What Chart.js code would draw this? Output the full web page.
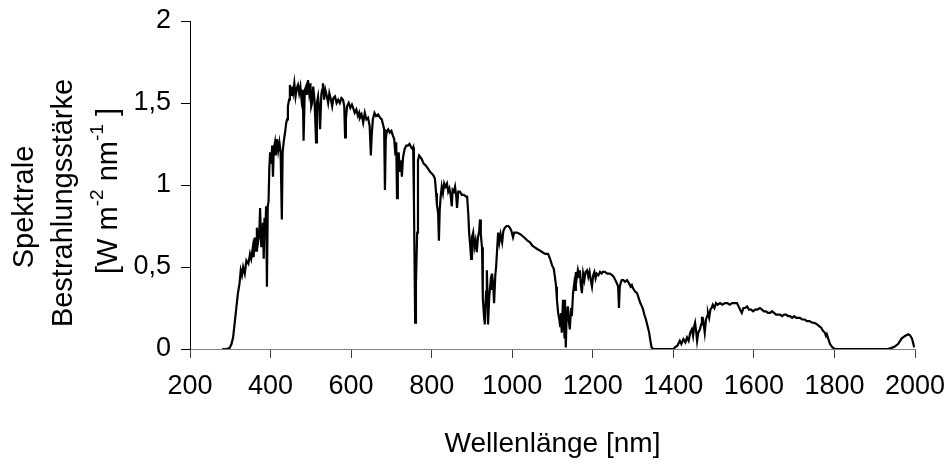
<!DOCTYPE html>
<html>
<head>
<meta charset="utf-8">
<script src="https://cdn.jsdelivr.net/npm/chart.js@4"></script>
<style>
  body { margin: 0; background: #fff; }
  canvas { display: block; }
</style>
</head>
<body>
<canvas id="spektrum" width="947" height="473"></canvas>
<script>
// Wellenlänge in nm
const wellenlaenge = [
  280, 290, 298, 303, 307, 311, 315, 319, 323, 326, 329, 332, 336, 340, 345, 349, 352, 356, 358, 361,
  364, 366, 369, 372, 374, 377, 379, 381, 383, 385, 387, 389, 391, 393, 395, 397, 399, 402, 404, 406,
  408, 411, 413, 416, 419, 422, 425, 428, 430, 433, 436, 439, 441, 443, 446, 448, 451, 453, 456, 459,
  462, 465, 468, 471, 474, 477, 480, 482, 485, 488, 490, 493, 496, 499, 501, 503, 506, 509, 511, 513,
  515, 518, 521, 523, 526, 528, 530, 533, 536, 540, 543, 546, 550, 553, 556, 560, 564, 568, 572, 576,
  580, 583, 585, 587, 590, 594, 598, 602, 605, 609, 613, 617, 620, 622, 626, 630, 634, 638, 642, 646,
  649, 651, 654, 658, 662, 667, 672, 676, 679, 682, 684, 686, 689, 692, 696, 700, 704, 707, 710, 712,
  714, 716, 718, 721, 724, 726, 729, 733, 737, 741, 745, 749, 752, 754, 756, 759, 761, 764, 766, 769,
  771, 775, 780, 785, 791, 796, 800, 804, 808, 811, 813, 816, 818, 820, 822, 825, 828, 831, 834, 838,
  841, 844, 847, 850, 852, 855, 858, 861, 863, 866, 870, 875, 880, 885, 888, 891, 893, 896, 898, 900,
  903, 906, 909, 912, 915, 918, 920, 922, 925, 927, 930, 932, 935, 937, 939, 940, 943, 946, 948, 950,
  953, 955, 958, 960, 962, 965, 968, 971, 975, 978, 982, 986, 990, 994, 998, 1002, 1005, 1012, 1020, 1030,
  1038, 1044, 1050, 1056, 1062, 1069, 1075, 1082, 1089, 1094, 1099, 1103, 1106, 1109, 1111, 1114, 1117, 1119, 1121, 1123,
  1126, 1128, 1130, 1131, 1133, 1135, 1138, 1140, 1143, 1146, 1148, 1151, 1154, 1156, 1158, 1160, 1163, 1166, 1168, 1170,
  1173, 1176, 1179, 1182, 1186, 1189, 1192, 1195, 1198, 1201, 1204, 1207, 1210, 1214, 1218, 1222, 1225, 1230, 1236, 1242,
  1248, 1252, 1256, 1260, 1263, 1265, 1267, 1270, 1272, 1276, 1280, 1285, 1290, 1294, 1297, 1300, 1305, 1310, 1314, 1318,
  1322, 1325, 1328, 1332, 1336, 1340, 1343, 1346, 1350, 1400, 1404, 1410, 1416, 1420, 1425, 1430, 1434, 1438, 1442, 1446,
  1449, 1452, 1454, 1457, 1459, 1462, 1466, 1469, 1471, 1473, 1476, 1478, 1481, 1484, 1486, 1489, 1492, 1495, 1498, 1502,
  1506, 1510, 1516, 1522, 1528, 1534, 1540, 1546, 1552, 1558, 1562, 1566, 1570, 1574, 1578, 1583, 1588, 1593, 1598, 1603,
  1608, 1615, 1620, 1625, 1630, 1635, 1640, 1645, 1650, 1655, 1660, 1665, 1670, 1675, 1680, 1685, 1690, 1695, 1700, 1705,
  1710, 1714, 1720, 1726, 1732, 1738, 1745, 1750, 1757, 1762, 1767, 1772, 1776, 1779, 1781, 1785, 1789, 1795, 1801, 1933,
  1940, 1945, 1950, 1955, 1958, 1963, 1967, 1970, 1975, 1980, 1983, 1987, 1990, 1993, 1996, 1998
];

// Spektrale Bestrahlungsstärke in W m^-2 nm^-1
const bestrahlung = [
  0, 0, 0.005, 0.03, 0.07, 0.16, 0.25, 0.34, 0.40, 0.48, 0.45, 0.50, 0.46, 0.54, 0.52, 0.58, 0.55, 0.62, 0.56, 0.68,
  0.60, 0.74, 0.65, 0.70, 0.86, 0.62, 0.72, 0.77, 0.55, 0.80, 0.72, 0.87, 0.38, 0.87, 0.90, 1.11, 1.20, 1.13, 1.24, 1.05,
  1.22, 1.26, 1.18, 1.28, 1.21, 1.26, 1.20, 0.79, 1.20, 1.27, 1.32, 1.38, 1.40, 1.48, 1.52, 1.61, 1.55, 1.60, 1.56, 1.62,
  1.54, 1.59, 1.61, 1.56, 1.60, 1.52, 1.58, 1.27, 1.58, 1.60, 1.55, 1.64, 1.56, 1.62, 1.48, 1.50, 1.60, 1.52, 1.40, 1.26,
  1.50, 1.54, 1.45, 1.34, 1.55, 1.58, 1.62, 1.52, 1.58, 1.54, 1.50, 1.56, 1.52, 1.48, 1.53, 1.54, 1.50, 1.52, 1.50, 1.53,
  1.52, 1.48, 1.29, 1.40, 1.48, 1.50, 1.47, 1.49, 1.47, 1.44, 1.46, 1.42, 1.44, 1.41, 1.43, 1.38, 1.44, 1.40, 1.41, 1.36,
  1.18, 1.30, 1.40, 1.44, 1.42, 1.43, 1.41, 1.40, 1.37, 1.34, 0.97, 1.28, 1.33, 1.34, 1.32, 1.33, 1.30, 1.28, 1.18, 1.26,
  0.92, 1.10, 1.20, 1.08, 1.15, 1.05, 1.17, 1.22, 1.24, 1.24, 1.25, 1.23, 1.22, 1.23, 0.90, 0.16, 0.40, 0.71, 1.15, 1.18,
  1.18, 1.16, 1.13, 1.12, 1.10, 1.08, 1.07, 1.06, 1.04, 0.95, 0.88, 0.83, 0.66, 0.85, 0.92, 0.99, 0.95, 1.01, 0.99, 1.01,
  0.96, 0.98, 0.94, 0.87, 0.97, 0.96, 0.99, 0.93, 0.86, 0.96, 0.96, 0.94, 0.94, 0.93, 0.93, 0.82, 0.71, 0.62, 0.55, 0.68,
  0.71, 0.62, 0.66, 0.59, 0.68, 0.72, 0.79, 0.70, 0.62, 0.31, 0.20, 0.15, 0.35, 0.48, 0.30, 0.15, 0.32, 0.40, 0.36, 0.46,
  0.38, 0.28, 0.45, 0.50, 0.50, 0.71, 0.65, 0.70, 0.65, 0.72, 0.74, 0.75, 0.75, 0.74, 0.72, 0.68, 0.71, 0.71, 0.70, 0.68,
  0.66, 0.65, 0.63, 0.62, 0.61, 0.60, 0.59, 0.58, 0.58, 0.55, 0.51, 0.49, 0.44, 0.38, 0.30, 0.22, 0.18, 0.14, 0.22, 0.10,
  0.30, 0.15, 0.07, 0.30, 0.01, 0.20, 0.26, 0.18, 0.12, 0.25, 0.20, 0.34, 0.40, 0.36, 0.47, 0.43, 0.48, 0.44, 0.48, 0.40,
  0.34, 0.46, 0.42, 0.47, 0.48, 0.44, 0.47, 0.42, 0.38, 0.45, 0.47, 0.43, 0.46, 0.45, 0.47, 0.46, 0.47, 0.47, 0.46, 0.46,
  0.45, 0.44, 0.42, 0.40, 0.38, 0.25, 0.38, 0.41, 0.42, 0.42, 0.41, 0.42, 0.40, 0.38, 0.39, 0.37, 0.35, 0.34, 0.31, 0.28,
  0.26, 0.24, 0.21, 0.18, 0.14, 0.10, 0.05, 0.01, 0, 0, 0.01, 0.02, 0.05, 0.03, 0.06, 0.04, 0.07, 0.05, 0.10, 0.12,
  0.08, 0.14, 0.16, 0.10, 0.05, 0.10, 0.12, 0.15, 0.19, 0.19, 0.14, 0.10, 0.18, 0.20, 0.22, 0.19, 0.24, 0.25, 0.27, 0.25,
  0.28, 0.27, 0.28, 0.27, 0.28, 0.28, 0.27, 0.28, 0.28, 0.28, 0.26, 0.24, 0.22, 0.25, 0.25, 0.26, 0.24, 0.24, 0.23, 0.24,
  0.24, 0.25, 0.24, 0.23, 0.23, 0.22, 0.22, 0.23, 0.22, 0.21, 0.21, 0.21, 0.20, 0.21, 0.21, 0.20, 0.20, 0.19, 0.20, 0.19,
  0.19, 0.19, 0.18, 0.18, 0.17, 0.17, 0.16, 0.16, 0.15, 0.14, 0.13, 0.11, 0.10, 0.08, 0.09, 0.06, 0.03, 0.01, 0, 0,
  0.005, 0.01, 0.015, 0.025, 0.03, 0.05, 0.065, 0.07, 0.08, 0.085, 0.09, 0.085, 0.075, 0.06, 0.03, 0.01
];

const xTicks = [200, 400, 600, 800, 1000, 1200, 1400, 1600, 1800, 2000];
const yTicks = [0, 0.5, 1, 1.5, 2];

const xTitel = 'Wellenlänge [nm]';
const yTitel = ['Spektrale', 'Bestrahlungsstärke'];

const schrift = "'Liberation Sans', Arial, sans-serif";

// Achsentitel zeichnen, der y-Titel mit hochgestellten Exponenten
const achsenTitel = {
  id: 'achsenTitel',
  afterDraw(chart) {
    const ctx = chart.ctx;
    const area = chart.chartArea;
    ctx.save();
    ctx.fillStyle = '#000';
    ctx.font = '28px ' + schrift;
    ctx.textAlign = 'center';
    ctx.textBaseline = 'alphabetic';
    ctx.fillText(xTitel, (area.left + area.right) / 2, 452);

    const normal = '29px ' + schrift;
    const klein = '19px ' + schrift;
    ctx.font = normal;
    const zeilen = [[33, 207], [72, 203]];
    yTitel.forEach((txt, i) => {
      ctx.save();
      ctx.translate(zeilen[i][0], zeilen[i][1]);
      ctx.rotate(-Math.PI / 2);
      ctx.fillText(txt, 0, 0);
      ctx.restore();
    });

    // [W m^-2 nm^-1]
    const teile = [
      { t: '[W m', hoch: false },
      { t: '-2', hoch: true },
      { t: ' nm', hoch: false },
      { t: '-1', hoch: true },
      { t: ' ]', hoch: false }
    ];
    let breite = 0;
    teile.forEach(p => {
      ctx.font = p.hoch ? klein : normal;
      p.w = ctx.measureText(p.t).width;
      breite += p.w;
    });
    ctx.save();
    ctx.translate(117, 191);
    ctx.rotate(-Math.PI / 2);
    ctx.textAlign = 'left';
    let x = -breite / 2;
    teile.forEach(p => {
      ctx.font = p.hoch ? klein : normal;
      ctx.fillText(p.t, x, p.hoch ? -14 : 0);
      x += p.w;
    });
    ctx.restore();
    ctx.restore();
  }
};

const punkte = wellenlaenge.map((w, i) => ({ x: w, y: bestrahlung[i] }));

new Chart('spektrum', {
  type: 'line',
  data: {
    datasets: [{
      data: punkte,
      borderColor: '#000',
      borderWidth: 2.2,
      pointRadius: 0,
      tension: 0,
      fill: false
    }]
  },
  options: {
    responsive: false,
    animation: false,
    layout: { padding: { left: 130, right: 32, top: 21, bottom: 0 } },
    plugins: {
      legend: { display: false },
      tooltip: { enabled: false }
    },
    scales: {
      x: {
        type: 'linear',
        min: 200,
        max: 2000,
        afterBuildTicks: s => { s.ticks = xTicks.map(v => ({ value: v })); },
        afterFit: s => { s.height = 124; s.paddingLeft = 0; s.paddingRight = 0; },
        border: { color: '#808080', width: 1 },
        grid: { drawOnChartArea: false, drawTicks: true, tickLength: 9, color: '#404040' },
        ticks: {
          color: '#000',
          padding: 12,
          maxRotation: 0,
          autoSkip: false,
          font: { family: schrift, size: 27 },
          callback: v => String(v)
        }
      },
      y: {
        min: 0,
        max: 2,
        afterBuildTicks: s => { s.ticks = yTicks.map(v => ({ value: v })); },
        afterFit: s => { s.width = 60; s.paddingTop = 0; s.paddingBottom = 0; },
        border: { color: '#000', width: 1 },
        grid: { drawOnChartArea: false, drawTicks: true, tickLength: 9, color: '#000' },
        ticks: {
          color: '#000',
          padding: 10,
          font: { family: schrift, size: 27 },
          callback: v => String(v).replace('.', ',')
        }
      }
    }
  },
  plugins: [achsenTitel]
});
</script>
</body>
</html>
